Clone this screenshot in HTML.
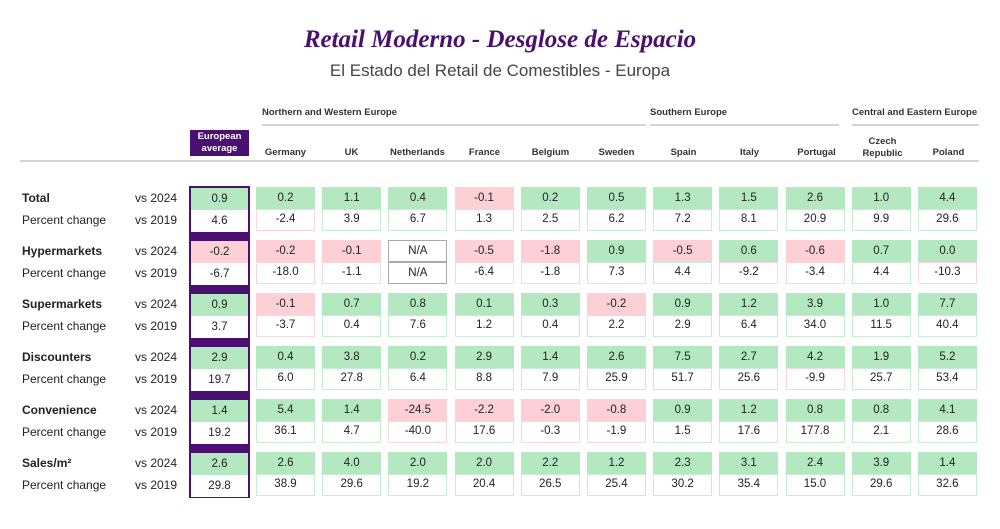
<!DOCTYPE html>
<html><head><meta charset="utf-8"><style>
body{margin:0;width:1000px;height:529px;background:#fff;position:relative;font-family:"Liberation Sans",sans-serif;color:#222;overflow:hidden}
.a{position:absolute}
.t1{left:0;width:1000px;top:26px;text-align:center;font-family:"Liberation Serif",serif;font-style:italic;font-weight:bold;font-size:25px;color:#4a1070}
.t2{left:0;width:1000px;top:61px;text-align:center;font-size:17px;color:#444}
.reg{font-size:9.5px;font-weight:bold;top:107px;color:#333}
.rl{height:2px;background:#d4d4dc;top:124px}
.ch{font-size:9.5px;font-weight:bold;color:#333;width:59px;text-align:center;line-height:12px}
.row{position:absolute;left:256px;display:grid;grid-template-columns:repeat(11,59px);column-gap:7.2px}
.c{height:22px;line-height:22px;text-align:center;font-size:11.5px;box-sizing:border-box}
.g{background:#b4e8c1}.r{background:#fcd0d4}
.wg{background:#fff;border:1.5px solid #c8eed2;line-height:19px}
.wr{background:#fff;border:1.5px solid #fbd6da;line-height:19px}
.na{background:#fff;border:1px solid #aaa;line-height:20px}
.lb{font-size:12px;left:22px}
.vs{font-size:12px;left:135px}
.av{position:absolute;left:191px;width:57px}
</style></head><body>
<div class="a t1">Retail Moderno - Desglose de Espacio</div>
<div class="a t2">El Estado del Retail de Comestibles - Europa</div>
<div class="a reg" style="left:262px">Northern and Western Europe</div>
<div class="a reg" style="left:650px">Southern Europe</div>
<div class="a reg" style="left:852px">Central and Eastern Europe</div>
<div class="a rl" style="left:262px;width:384px"></div>
<div class="a rl" style="left:650px;width:189px"></div>
<div class="a rl" style="left:852px;width:127px"></div>
<div class="a" style="left:190px;top:130px;width:59px;height:26px;background:#4a0f70;color:#fff;font-size:9.5px;font-weight:bold;text-align:center;line-height:12px;padding-top:1px;box-sizing:border-box">European<br>average</div>
<div class="a ch" style="left:256px;top:147px">Germany</div>
<div class="a ch" style="left:322px;top:147px">UK</div>
<div class="a ch" style="left:388px;top:147px">Netherlands</div>
<div class="a ch" style="left:455px;top:147px">France</div>
<div class="a ch" style="left:521px;top:147px">Belgium</div>
<div class="a ch" style="left:587px;top:147px">Sweden</div>
<div class="a ch" style="left:654px;top:147px">Spain</div>
<div class="a ch" style="left:720px;top:147px">Italy</div>
<div class="a ch" style="left:787px;top:147px">Portugal</div>
<div class="a ch" style="left:853px;top:136px">Czech<br>Republic</div>
<div class="a ch" style="left:919px;top:147px">Poland</div>
<div class="a" style="left:20px;top:160px;width:959px;height:2px;background:#d4d4dc"></div>
<div class="a" style="left:189px;top:186px;width:61px;height:312px;background:#4a0f70"></div>

<div class="a lb" style="top:191px;font-weight:bold">Total</div><div class="a vs" style="top:191px">vs 2024</div>
<div class="a lb" style="top:213px">Percent change</div><div class="a vs" style="top:213px">vs 2019</div>
<div class="a lb" style="top:244px;font-weight:bold">Hypermarkets</div><div class="a vs" style="top:244px">vs 2024</div>
<div class="a lb" style="top:266px">Percent change</div><div class="a vs" style="top:266px">vs 2019</div>
<div class="a lb" style="top:297px;font-weight:bold">Supermarkets</div><div class="a vs" style="top:297px">vs 2024</div>
<div class="a lb" style="top:319px">Percent change</div><div class="a vs" style="top:319px">vs 2019</div>
<div class="a lb" style="top:350px;font-weight:bold">Discounters</div><div class="a vs" style="top:350px">vs 2024</div>
<div class="a lb" style="top:372px">Percent change</div><div class="a vs" style="top:372px">vs 2019</div>
<div class="a lb" style="top:403px;font-weight:bold">Convenience</div><div class="a vs" style="top:403px">vs 2024</div>
<div class="a lb" style="top:425px">Percent change</div><div class="a vs" style="top:425px">vs 2019</div>
<div class="a lb" style="top:456px;font-weight:bold">Sales/m²</div><div class="a vs" style="top:456px">vs 2024</div>
<div class="a lb" style="top:478px">Percent change</div><div class="a vs" style="top:478px">vs 2019</div>

<div class="av c g" style="top:188px">0.9</div><div class="av c" style="top:210px;background:#fff">4.6</div>
<div class="av c r" style="top:241px">-0.2</div><div class="av c" style="top:263px;background:#fff">-6.7</div>
<div class="av c g" style="top:294px">0.9</div><div class="av c" style="top:316px;background:#fff">3.7</div>
<div class="av c g" style="top:347px">2.9</div><div class="av c" style="top:369px;background:#fff">19.7</div>
<div class="av c g" style="top:400px">1.4</div><div class="av c" style="top:422px;background:#fff">19.2</div>
<div class="av c g" style="top:453px">2.6</div><div class="av c" style="top:475px;background:#fff">29.8</div>

<div class="row" style="top:187px"><div class="c g">0.2</div><div class="c g">1.1</div><div class="c g">0.4</div><div class="c r">-0.1</div><div class="c g">0.2</div><div class="c g">0.5</div><div class="c g">1.3</div><div class="c g">1.5</div><div class="c g">2.6</div><div class="c g">1.0</div><div class="c g">4.4</div></div>
<div class="row" style="top:209px"><div class="c wr">-2.4</div><div class="c wg">3.9</div><div class="c wg">6.7</div><div class="c wg">1.3</div><div class="c wg">2.5</div><div class="c wg">6.2</div><div class="c wg">7.2</div><div class="c wg">8.1</div><div class="c wg">20.9</div><div class="c wg">9.9</div><div class="c wg">29.6</div></div>

<div class="row" style="top:240px"><div class="c r">-0.2</div><div class="c r">-0.1</div><div class="c na">N/A</div><div class="c r">-0.5</div><div class="c r">-1.8</div><div class="c g">0.9</div><div class="c r">-0.5</div><div class="c g">0.6</div><div class="c r">-0.6</div><div class="c g">0.7</div><div class="c g">0.0</div></div>
<div class="row" style="top:262px"><div class="c wr">-18.0</div><div class="c wr">-1.1</div><div class="c na">N/A</div><div class="c wr">-6.4</div><div class="c wr">-1.8</div><div class="c wg">7.3</div><div class="c wg">4.4</div><div class="c wr">-9.2</div><div class="c wr">-3.4</div><div class="c wg">4.4</div><div class="c wr">-10.3</div></div>

<div class="row" style="top:293px"><div class="c r">-0.1</div><div class="c g">0.7</div><div class="c g">0.8</div><div class="c g">0.1</div><div class="c g">0.3</div><div class="c r">-0.2</div><div class="c g">0.9</div><div class="c g">1.2</div><div class="c g">3.9</div><div class="c g">1.0</div><div class="c g">7.7</div></div>
<div class="row" style="top:315px"><div class="c wr">-3.7</div><div class="c wg">0.4</div><div class="c wg">7.6</div><div class="c wg">1.2</div><div class="c wg">0.4</div><div class="c wg">2.2</div><div class="c wg">2.9</div><div class="c wg">6.4</div><div class="c wg">34.0</div><div class="c wg">11.5</div><div class="c wg">40.4</div></div>

<div class="row" style="top:346px"><div class="c g">0.4</div><div class="c g">3.8</div><div class="c g">0.2</div><div class="c g">2.9</div><div class="c g">1.4</div><div class="c g">2.6</div><div class="c g">7.5</div><div class="c g">2.7</div><div class="c g">4.2</div><div class="c g">1.9</div><div class="c g">5.2</div></div>
<div class="row" style="top:368px"><div class="c wg">6.0</div><div class="c wg">27.8</div><div class="c wg">6.4</div><div class="c wg">8.8</div><div class="c wg">7.9</div><div class="c wg">25.9</div><div class="c wg">51.7</div><div class="c wg">25.6</div><div class="c wr">-9.9</div><div class="c wg">25.7</div><div class="c wg">53.4</div></div>

<div class="row" style="top:399px"><div class="c g">5.4</div><div class="c g">1.4</div><div class="c r">-24.5</div><div class="c r">-2.2</div><div class="c r">-2.0</div><div class="c r">-0.8</div><div class="c g">0.9</div><div class="c g">1.2</div><div class="c g">0.8</div><div class="c g">0.8</div><div class="c g">4.1</div></div>
<div class="row" style="top:421px"><div class="c wg">36.1</div><div class="c wg">4.7</div><div class="c wr">-40.0</div><div class="c wg">17.6</div><div class="c wr">-0.3</div><div class="c wr">-1.9</div><div class="c wg">1.5</div><div class="c wg">17.6</div><div class="c wg">177.8</div><div class="c wg">2.1</div><div class="c wg">28.6</div></div>

<div class="row" style="top:452px"><div class="c g">2.6</div><div class="c g">4.0</div><div class="c g">2.0</div><div class="c g">2.0</div><div class="c g">2.2</div><div class="c g">1.2</div><div class="c g">2.3</div><div class="c g">3.1</div><div class="c g">2.4</div><div class="c g">3.9</div><div class="c g">1.4</div></div>
<div class="row" style="top:474px"><div class="c wg">38.9</div><div class="c wg">29.6</div><div class="c wg">19.2</div><div class="c wg">20.4</div><div class="c wg">26.5</div><div class="c wg">25.4</div><div class="c wg">30.2</div><div class="c wg">35.4</div><div class="c wg">15.0</div><div class="c wg">29.6</div><div class="c wg">32.6</div></div>
</body></html>
